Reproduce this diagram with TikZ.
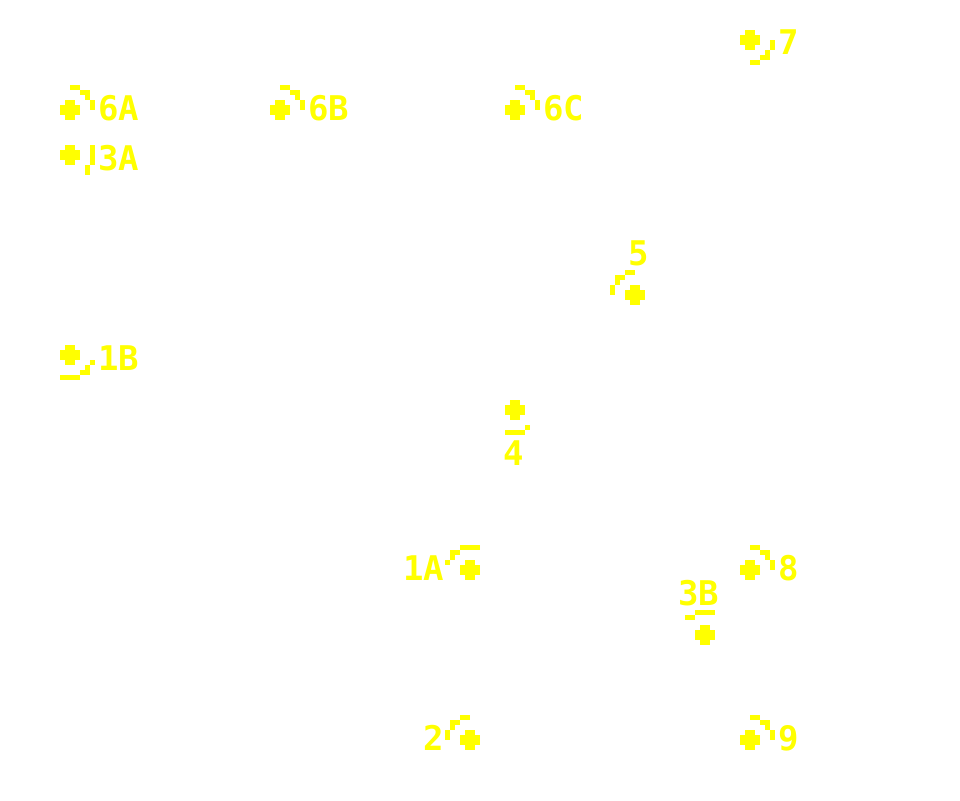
\documentclass[tikz,border=0pt]{standalone}
\usepackage{fontspec}
\setmonofont{DejaVu Sans Mono}
\definecolor{pixy}{RGB}{255,255,0}
\tikzset{
  pixfill/.style={fill=pixy, draw=none},
  lbl/.style={text=pixy, inner sep=0pt, outer sep=0pt, anchor=base west,
    font=\ttfamily\bfseries\fontsize{34}{34}\selectfont},
  blob/.pic={
    \fill[pixfill] (5,0) rectangle (15,20);
    \fill[pixfill] (0,5) rectangle (20,15);
  },
  leadNE/.pic={
    \fill[pixfill] (10,-15) rectangle (20,-10);
    \fill[pixfill] (20,-10) rectangle (30,-5);
    \fill[pixfill] (25,-5) rectangle (30,0);
    \fill[pixfill] (30,0) rectangle (35,10);
  },
  leadNW/.pic={
    \fill[pixfill] (0,-15) rectangle (10,-10);
    \fill[pixfill] (-10,-10) rectangle (0,-5);
    \fill[pixfill] (-10,-5) rectangle (-5,0);
    \fill[pixfill] (-15,0) rectangle (-10,10);
  },
  leadSE/.pic={
    \fill[pixfill] (30,10) rectangle (35,20);
    \fill[pixfill] (25,20) rectangle (30,25);
    \fill[pixfill] (20,25) rectangle (30,30);
    \fill[pixfill] (10,30) rectangle (20,35);
  }
}
\begin{document}
\begin{tikzpicture}[x=1pt,y=-1pt]
\useasboundingbox[fill=white] (0,0) rectangle (960,800);

% 6A
\pic at (60,100) {blob}; \pic at (60,100) {leadNE};
\node[lbl] (l6A) at (98,120) {6A};
% 6B
\pic at (270,100) {blob}; \pic at (270,100) {leadNE};
\node[lbl] (l6B) at (308,120) {6B};
% 6C
\pic at (505,100) {blob}; \pic at (505,100) {leadNE};
\node[lbl] (l6C) at (543,120) {6C};
% 7
\pic at (740,30) {blob}; \pic at (740,30) {leadSE};
\node[lbl] (l7) at (778,55) {7};
% 3A
\pic at (60,145) {blob};
\fill[pixfill] (90,145) rectangle (95,165);
\fill[pixfill] (85,165) rectangle (90,175);
\node[lbl] (l3A) at (98,170) {3A};
% 5
\pic at (625,285) {blob}; \pic at (625,285) {leadNW};
\node[lbl] (l5) at (628,265) {5};
% 1B
\pic at (60,345) {blob};
\fill[pixfill] (90,360) rectangle (95,365);
\fill[pixfill] (85,365) rectangle (90,370);
\fill[pixfill] (80,370) rectangle (90,375);
\fill[pixfill] (60,375) rectangle (80,380);
\node[lbl] (l1B) at (98,370) {1B};
% 4
\pic at (505,400) {blob};
\fill[pixfill] (505,430) rectangle (525,435);
\fill[pixfill] (525,425) rectangle (530,430);
\node[lbl] (l4) at (503,465) {4};
% 1A
\pic at (460,560) {blob};
\fill[pixfill] (460,545) rectangle (480,550);
\fill[pixfill] (450,550) rectangle (460,555);
\fill[pixfill] (450,555) rectangle (455,560);
\fill[pixfill] (445,560) rectangle (450,565);
\node[lbl] (l1A) at (403,580) {1A};
% 8
\pic at (740,560) {blob}; \pic at (740,560) {leadNE};
\node[lbl] (l8) at (778,580) {8};
% 3B
\pic at (695,625) {blob};
\fill[pixfill] (695,610) rectangle (715,615);
\fill[pixfill] (685,615) rectangle (695,620);
\node[lbl] (l3B) at (678,605) {3B};
% 2
\pic at (460,730) {blob}; \pic at (460,730) {leadNW};
\node[lbl] (l2) at (423,750) {2};
% 9
\pic at (740,730) {blob}; \pic at (740,730) {leadNE};
\node[lbl] (l9) at (778,750) {9};
\end{tikzpicture}
\end{document}
